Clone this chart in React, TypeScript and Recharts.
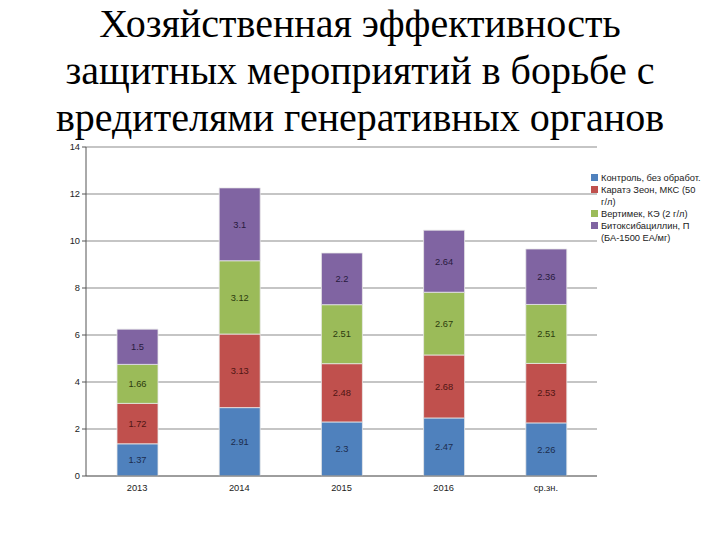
import React from 'react';
import { BarChart, Bar, XAxis, YAxis, CartesianGrid, LabelList } from 'recharts';

const years = ['2013', '2014', '2015', '2016', 'ср.зн.'];
const control = [1.37, 2.91, 2.3, 2.47, 2.26];
const karate = [1.72, 3.13, 2.48, 2.68, 2.53];
const vertimek = [1.66, 3.12, 2.51, 2.67, 2.51];
const bitoxy = [1.5, 3.1, 2.2, 2.64, 2.36];
const yTicks = [0, 2, 4, 6, 8, 10, 12, 14];
const titleLines = [
  'Хозяйственная эффективность',
  'защитных мероприятий в борьбе с',
  'вредителями генеративных органов',
];

const seriesDefs = [
  { key: 'control', name: 'Контроль, без обработ.', color: '#4f81bd', label: '#1c2c4d' },
  { key: 'karate', name: 'Каратэ Зеон, МКС (50 г/л)', color: '#c0504d', label: '#4f1513' },
  { key: 'vertimek', name: 'Вертимек, КЭ (2 г/л)', color: '#9bbb59', label: '#2c3a0e' },
  { key: 'bitoxy', name: 'Битоксибациллин, П (БА-1500 ЕА/мг)', color: '#8064a2', label: '#271a3d' },
];

const data = years.map((year, i) => ({
  year,
  control: control[i],
  karate: karate[i],
  vertimek: vertimek[i],
  bitoxy: bitoxy[i],
}));

const font = '"Liberation Sans", Arial, sans-serif';
const small = 9.3;

// legend sits beside the plot, so it is kept outside the chart layout
// (word joiner after "/" keeps units like "г/л" together when wrapping)
const LegendBox = () => (
  <div style={{ position: 'absolute', left: 591, top: 172, fontFamily: font, fontSize: small, color: '#222', width: 122 }}>
    {seriesDefs.map((s) => (
      <div key={s.key} style={{ display: 'flex', alignItems: 'flex-start', lineHeight: '12px' }}>
        <span
          style={{
            display: 'inline-block',
            width: 7,
            height: 7,
            background: s.color,
            marginTop: 2,
            marginRight: 3,
            flexShrink: 0,
          }}
        />
        <span style={{ width: 104 }}>{s.name.replace(/\//g, '/\u2060')}</span>
      </div>
    ))}
  </div>
);

export default function App() {
  return (
    <div style={{ position: 'absolute', left: 0, top: 0, width: 720, height: 540, background: '#fff', overflow: 'hidden' }}>
      {titleLines.map((t, i) => (
        <div
          key={i}
          style={{
            position: 'absolute',
            left: 0,
            top: i * 47,
            width: 720,
            textAlign: 'center',
            fontFamily: '"Liberation Serif", "Times New Roman", serif',
            fontSize: 40,
            lineHeight: 'normal',
            color: '#000',
            whiteSpace: 'nowrap',
          }}
        >
          {t}
        </div>
      ))}
      <div style={{ position: 'absolute', left: 0, top: 0 }}>
        <BarChart
          width={720}
          height={540}
          data={data}
          margin={{ top: 147, right: 123, bottom: 34, left: 56 }}
        >
          <CartesianGrid vertical={false} stroke="#8c8c8c" strokeWidth={1.2} />
          <XAxis
            dataKey="year"
            height={30}
            tickLine={false}
            axisLine={{ stroke: '#777' }}
            tick={{ fontSize: small, fill: '#222', fontFamily: font }}
          />
          <YAxis
            width={30}
            domain={[0, 14]}
            ticks={yTicks}
            interval={0}
            tickSize={4}
            tickLine={{ stroke: '#555' }}
            axisLine={{ stroke: '#555' }}
            tick={{ fontSize: small, fill: '#222', fontFamily: font }}
          />
          {seriesDefs.map((s) => (
            <Bar
              key={s.key}
              dataKey={s.key}
              name={s.name}
              stackId="a"
              fill={s.color}
              stroke="#e8e8e8"
              strokeWidth={0.8}
              barSize={41}
              isAnimationActive={false}
            >
              <LabelList
                dataKey={s.key}
                position="center"
                style={{ fontSize: small, fill: s.label, fontFamily: font }}
              />
            </Bar>
          ))}
        </BarChart>
      </div>
      <LegendBox />
    </div>
  );
}
